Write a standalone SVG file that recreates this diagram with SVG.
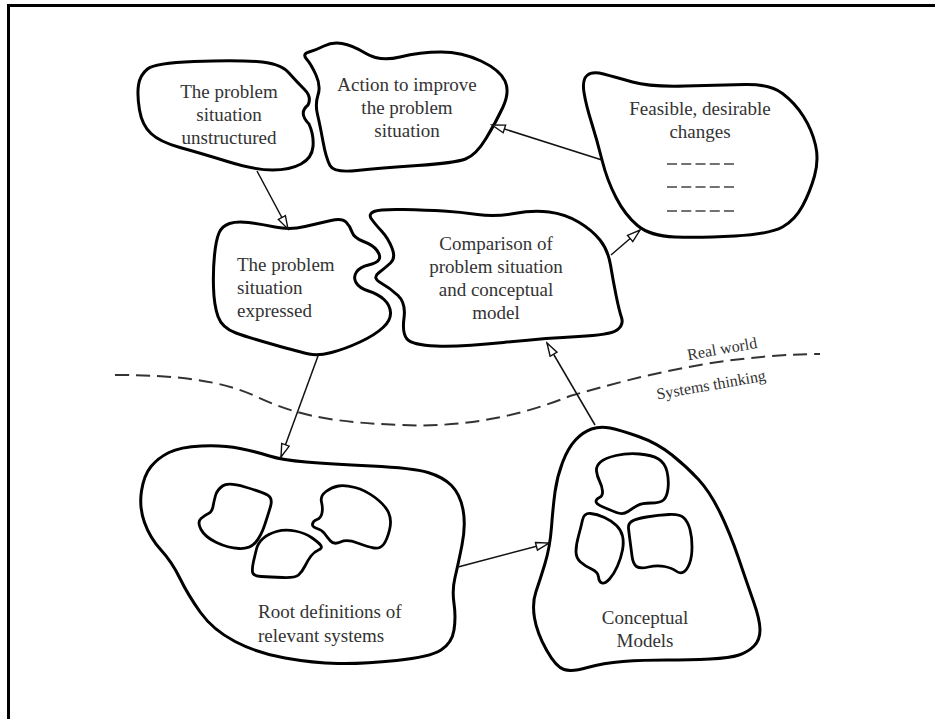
<svg xmlns="http://www.w3.org/2000/svg" width="935" height="719" viewBox="0 0 935 719">
<style>
.blob{fill:#fff;stroke:#000;stroke-width:3;stroke-linejoin:round}
.inner{fill:none;stroke:#000;stroke-width:2.8;stroke-linejoin:round}
.lbl{font-family:"Liberation Serif","Times New Roman",serif;font-size:19px;fill:#333}
.mid{text-anchor:middle}
.side{font-family:"Liberation Serif","Times New Roman",serif;font-size:16px;fill:#333;text-anchor:middle}
.conn{fill:none;stroke:#111;stroke-width:1.5}
.dash{fill:none;stroke:#333;stroke-width:2;stroke-dasharray:14 7}
.blank{fill:none;stroke:#444;stroke-width:1.3;stroke-dasharray:10 4.25}
</style>
<defs>
<marker id="ah" markerWidth="16" markerHeight="12" refX="14" refY="5" orient="auto" markerUnits="userSpaceOnUse">
<path d="M1,1 L14,5 L1,9 Z" fill="#fff" stroke="#111" stroke-width="1.4"/>
</marker>
</defs>
<rect width="935" height="719" fill="#fff"/>
<path d="M8.5,719 V5.5 H935" fill="none" stroke="#000" stroke-width="3"/>

<g id="boundary">
<path class="dash" d="M115,375 C175,375 220,380 255,396 C290,412 320,422 400,425 C470,428 525,414 570,396 C640,376 720,355 820,354"/>
<text class="side" x="723" y="354" transform="rotate(-10 723 354)">Real world</text>
<text class="side" x="712" y="390" transform="rotate(-10 712 390)">Systems thinking</text>
</g>

<g id="unstructured">
<path class="blob" d="M138.5,85 Q140,75 147.5,69 Q155,63 194,61.5 Q233,60 256.5,61.5 Q280,63 288.5,72.5 Q297,82 304.5,89.5 Q312,97 308,105 Q298,113 309,124 Q314,135 313,146.5 Q312,158 301,164 Q290,170 272.5,170 Q255,170 227.5,161.5 Q200,153 180,147.5 Q160,142 151,133.5 Q142,125 139.5,110 Q137,95 138.5,85 Z"/>
<text class="lbl mid" x="229" y="98">The problem</text>
<text class="lbl mid" x="229" y="121">situation</text>
<text class="lbl mid" x="229" y="144">unstructured</text>
</g>

<g id="action">
<path class="blob" d="M306.5,59 Q302,54 309,52 Q316,50 324,46 Q332,42 342,43.5 Q352,45 366,53.5 Q380,62 400,57 Q420,52 441,52 Q462,52 481,61 Q500,70 505,81 Q510,92 503,107 Q496,122 486,138.5 Q476,155 465.5,159 Q455,163 417.5,165.5 Q380,168 357,170.5 Q334,173 330,165.5 Q326,158 323,141.5 Q320,125 317.5,114.5 Q315,104 318,95 Q321,86 316,75 Q311,64 306.5,59 Z"/>
<text class="lbl mid" x="407" y="91">Action to improve</text>
<text class="lbl mid" x="407" y="114">the problem</text>
<text class="lbl mid" x="407" y="137">situation</text>
</g>

<g id="feasible">
<path class="blob" d="M584,92.5 Q582,80 587,75.5 Q592,71 603.5,74 Q615,77 632.5,82 Q650,87 685,86 Q720,85 745,84.5 Q770,84 782.5,93.5 Q795,103 803.5,116.5 Q812,130 815.5,145 Q819,160 814.5,176 Q810,192 802.5,206 Q795,220 782.5,227 Q770,234 735,236 Q700,238 675,237 Q650,236 637.5,225.5 Q625,215 616,197.5 Q607,180 602,160 Q597,140 591.5,122.5 Q586,105 584,92.5 Z"/>
<text class="lbl mid" x="700" y="115">Feasible, desirable</text>
<text class="lbl mid" x="700" y="138">changes</text>
<path class="blank" d="M667,164 H734 M667,187 H734 M667,211 H734"/>
</g>

<g id="expressed">
<path class="blob" d="M214.5,255 Q216,240 219,233 Q222,226 229.5,223.5 Q237,221 248.5,222.5 Q260,224 275,227 Q290,230 305,226.5 Q320,223 331,220.5 Q342,218 346,222 Q350,226 352,232 Q354,238 363.5,241.5 Q373,245 377,250.5 Q381,256 379,259.5 Q377,263 368.5,265 Q360,267 356.5,272 Q353,277 356,282.5 Q359,288 368.5,291 Q378,294 384,299.5 Q390,305 390.5,312.5 Q391,320 383,327.5 Q375,335 360,342 Q345,349 331.5,352.5 Q318,356 309,354 Q300,352 275,345 Q250,338 236,333 Q222,328 218,316.5 Q214,305 213.5,287.5 Q213,270 214.5,255 Z"/>
<text class="lbl" x="237" y="271">The problem</text>
<text class="lbl" x="237" y="294">situation</text>
<text class="lbl" x="237" y="317">expressed</text>
</g>

<g id="comparison">
<path class="blob" d="M371.5,219 Q368,214 374,211.5 Q380,209 403.5,209.5 Q427,210 443.5,211 Q460,212 477.5,214.5 Q495,217 514,213.5 Q533,210 549,212 Q565,214 578.5,222 Q592,230 600,240 Q608,250 610.5,265 Q613,280 616,295 Q619,310 621.5,317.5 Q624,325 617,330 Q610,335 578.5,336.5 Q547,338 503.5,342.5 Q460,347 436,346 Q412,345 407,339 Q402,333 404,318 Q406,303 398,295.5 Q390,288 381,283 Q372,278 378.5,273 Q385,268 390.5,263 Q396,258 392,248 Q388,238 381.5,231 Q375,224 371.5,219 Z"/>
<text class="lbl mid" x="496" y="250">Comparison of</text>
<text class="lbl mid" x="496" y="273">problem situation</text>
<text class="lbl mid" x="496" y="296">and conceptual</text>
<text class="lbl mid" x="496" y="319">model</text>
</g>

<g id="root-definitions">
<path class="blob" d="M151,466.5 Q158,458 169,452.5 Q180,447 201.5,446 Q223,445 240,448.5 Q257,452 269.5,456 Q282,460 306,462 Q330,464 371.5,466 Q413,468 428,472.5 Q443,477 451.5,485.5 Q460,494 463,509.5 Q466,525 462,545 Q458,565 455,577.5 Q452,590 454,603.5 Q456,617 454,630 Q452,643 441,650 Q430,657 396.5,660.5 Q363,664 338,663.5 Q313,663 285,658 Q257,653 235,641.5 Q213,630 200.5,612.5 Q188,595 180,578.5 Q172,562 161,550 Q150,538 144.5,522.5 Q139,507 141.5,491 Q144,475 151,466.5 Z"/>
<path class="inner" d="M215.5,495.5 Q217,490 222.5,486 Q228,482 245,487 Q262,492 267.5,495 Q273,498 270.5,506.5 Q268,515 264.5,525.5 Q261,536 255.5,542.5 Q250,549 239,548.5 Q228,548 216.5,542.5 Q205,537 201,529.5 Q197,522 201,518.5 Q205,515 208.5,513.5 Q212,512 213,506.5 Q214,501 215.5,495.5 Z"/>
<path class="inner" d="M321.5,502 Q320,496 326,491.5 Q332,487 338.5,486 Q345,485 355,487.5 Q365,490 375,497.5 Q385,505 388.5,512.5 Q392,520 389.5,530 Q387,540 383.5,544.5 Q380,549 374,548 Q368,547 357.5,543 Q347,539 340.5,542 Q334,545 330.5,541 Q327,537 324.5,533.5 Q322,530 317,528.5 Q312,527 312.5,524 Q313,521 317,519.5 Q321,518 322,513 Q323,508 321.5,502 Z"/>
<path class="inner" d="M256.5,549 Q258,543 263,538.5 Q268,534 276.5,531.5 Q285,529 295,531 Q305,533 311.5,537.5 Q318,542 320.5,545 Q323,548 318.5,550 Q314,552 311,556 Q308,560 305,566 Q302,572 298.5,575 Q295,578 282.5,577.5 Q270,577 261.5,576.5 Q253,576 252.5,572 Q252,568 253.5,561.5 Q255,555 256.5,549 Z"/>
<text class="lbl" x="258" y="618">Root definitions of</text>
<text class="lbl" x="258" y="642">relevant systems</text>
</g>

<g id="conceptual-models">
<path class="blob" d="M575.5,440 Q583,432 591.5,429 Q600,426 610,428 Q620,430 638.5,436.5 Q657,443 672,455 Q687,467 698.5,479.5 Q710,492 720,512.5 Q730,533 738.5,558 Q747,583 753.5,601.5 Q760,620 760,630 Q760,640 754,646 Q748,652 739,655 Q730,658 710,659 Q690,660 666.5,660 Q643,660 623,661.5 Q603,663 587.5,667.5 Q572,672 564,669.5 Q556,667 546.5,650 Q537,633 534.5,618 Q532,603 536,591.5 Q540,580 545,563.5 Q550,547 551.5,527 Q553,507 555,492 Q557,477 562.5,462.5 Q568,448 575.5,440 Z"/>
<path class="inner" d="M596.5,471 Q596,466 600.5,462 Q605,458 616,455.5 Q627,453 639.5,454 Q652,455 658.5,459 Q665,463 667,471.5 Q669,480 668,488.5 Q667,497 663.5,500 Q660,503 651,503 Q642,503 637.5,505.5 Q633,508 628,511.5 Q623,515 616.5,512.5 Q610,510 603,507 Q596,504 596,501.5 Q596,499 599.5,497.5 Q603,496 602.5,491 Q602,486 599.5,481 Q597,476 596.5,471 Z"/>
<path class="inner" d="M582.5,520 Q584,513 590.5,513.5 Q597,514 604.5,517.5 Q612,521 616.5,525.5 Q621,530 622.5,536 Q624,542 622.5,550 Q621,558 617.5,566 Q614,574 609.5,579 Q605,584 602,583 Q599,582 598.5,577 Q598,572 591.5,569 Q585,566 580.5,562 Q576,558 576,551.5 Q576,545 578.5,536 Q581,527 582.5,520 Z"/>
<path class="inner" d="M628.5,528.5 Q628,524 631.5,521.5 Q635,519 646.5,517 Q658,515 669,514.5 Q680,514 684,518 Q688,522 690,529.5 Q692,537 692,547 Q692,557 689.5,563.5 Q687,570 683.5,572 Q680,574 676,571 Q672,568 664.5,566.5 Q657,565 648.5,567 Q640,569 636.5,566.5 Q633,564 632,556 Q631,548 630,540.5 Q629,533 628.5,528.5 Z"/>
<text class="lbl mid" x="645" y="624">Conceptual</text>
<text class="lbl mid" x="645" y="647">Models</text>
</g>

<g id="connectors">
<line class="conn" x1="257" y1="171" x2="288" y2="229" marker-end="url(#ah)"/>
<line class="conn" x1="318" y1="356" x2="281" y2="457" marker-end="url(#ah)"/>
<line class="conn" x1="458" y1="567" x2="549" y2="543" marker-end="url(#ah)"/>
<line class="conn" x1="595" y1="425" x2="547" y2="343" marker-end="url(#ah)"/>
<line class="conn" x1="611" y1="255" x2="640" y2="230" marker-end="url(#ah)"/>
<line class="conn" x1="602" y1="160" x2="492" y2="125" marker-end="url(#ah)"/>
</g>
</svg>
